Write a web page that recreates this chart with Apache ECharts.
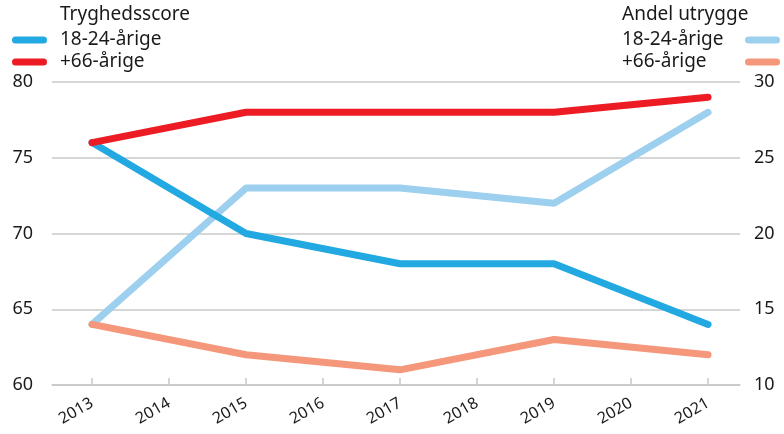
<!DOCTYPE html>
<html>
<head>
<meta charset="utf-8">
<script src="https://cdn.jsdelivr.net/npm/echarts@6/dist/echarts.min.js"></script>
<style>html,body{margin:0;padding:0;background:#fff}#c{width:784px;height:434px}</style>
</head>
<body>
<div id="c"></div>
<script>
var yearTicks = [2013, 2014, 2015, 2016, 2017, 2018, 2019, 2020, 2021];
var dataYears = [2013, 2015, 2017, 2019, 2021];
var score1824 = [76, 70, 68, 68, 64];
var score66 = [76, 78, 78, 78, 79];
var utrygge1824 = [14, 23, 23, 22, 28];
var utrygge66 = [14, 12, 11, 13, 12];
var leftTicks = [60, 65, 70, 75, 80];
var rightTicks = [10, 15, 20, 25, 30];

function pairs(vals) { return dataYears.map(function (y, i) { return [y, vals[i]]; }); }

var FONT = 'Noto Sans';
var TXT = '#1a1a1a';
var GRID = '#c8c8c8';
var iconPath = 'path://M3.5,0 H31.5 A3.5,3.5 0 0 1 31.5,7 H3.5 A3.5,3.5 0 0 1 3.5,0 Z';
var labels = {
  's1824': '18-24-årige', 's66': '+66-årige',
  'u1824': '18-24-årige', 'u66': '+66-årige'
};

var chart = echarts.init(document.getElementById('c'), null, {renderer: 'canvas'});
function lineSeries(id, color, vals, yIdx, z) {
  return {
    name: id, type: 'line', yAxisIndex: yIdx, data: pairs(vals),
    symbol: 'none', z: z, animation: false,
    lineStyle: {color: color, width: 7, cap: 'round', join: 'round'},
    itemStyle: {color: color}
  };
}
chart.setOption({
  animation: false,
  textStyle: {fontFamily: FONT},
  grid: {left: 52, right: 44, top: 82, bottom: 49, containLabel: false},
  graphic: [
    {type: 'text', left: 60, top: 5, style: {text: 'Tryghedsscore', fontSize: 19, fontFamily: FONT, fill: TXT}},
    {type: 'text', left: 622, top: 5, style: {text: 'Andel utrygge', fontSize: 19, fontFamily: FONT, fill: TXT}}
  ],
  legend: [
    {
      data: ['s1824', 's66'], orient: 'vertical', left: 12, top: 29, itemGap: 0, padding: 0,
      itemWidth: 35, itemHeight: 7, icon: iconPath, selectedMode: false,
      formatter: function (n) { return labels[n]; },
      textStyle: {fontSize: 19, lineHeight: 22, color: TXT, fontFamily: FONT, padding: [0, 0, 0, 8]}
    },
    {
      data: ['u1824', 'u66'], orient: 'vertical', right: 4, top: 29, itemGap: 0, padding: 0, align: 'right',
      itemWidth: 35, itemHeight: 7, icon: iconPath, selectedMode: false,
      formatter: function (n) { return '{a|' + labels[n] + '}'; },
      textStyle: {fontSize: 19, lineHeight: 22, color: TXT, fontFamily: FONT,
        rich: {a: {width: 118, align: 'left', fontSize: 19, lineHeight: 22, color: TXT, fontFamily: FONT}}}
    }
  ],
  xAxis: {
    type: 'value', min: 2012.48, max: 2021.415,
    axisLine: {show: true, lineStyle: {color: GRID, width: 1.5}},
    axisTick: {show: true, inside: true, length: 7, customValues: yearTicks, lineStyle: {color: GRID, width: 1.5}},
    splitLine: {show: false},
    axisLabel: {customValues: yearTicks, rotate: 30, margin: 17, fontSize: 16, color: TXT, fontFamily: FONT,
      formatter: function (v) { return String(v); }}
  },
  yAxis: [
    {
      type: 'value', min: 60, max: 80, interval: 5, position: 'left',
      axisLine: {show: false}, axisTick: {show: false},
      splitLine: {show: true, lineStyle: {color: GRID, width: 1.5}},
      axisLabel: {margin: 19, fontSize: 18, color: TXT, fontFamily: FONT, customValues: leftTicks}
    },
    {
      type: 'value', min: 10, max: 30, interval: 5, position: 'right',
      axisLine: {show: false}, axisTick: {show: false}, splitLine: {show: false},
      axisLabel: {margin: 14, fontSize: 18, color: TXT, fontFamily: FONT, customValues: rightTicks}
    }
  ],
  series: [
    lineSeries('u1824', '#9dcfee', utrygge1824, 1, 2),
    lineSeries('s1824', '#23a9e1', score1824, 0, 3),
    lineSeries('u66', '#f5977a', utrygge66, 1, 4),
    lineSeries('s66', '#ed1c24', score66, 0, 5)
  ]
});
</script>
</body>
</html>
